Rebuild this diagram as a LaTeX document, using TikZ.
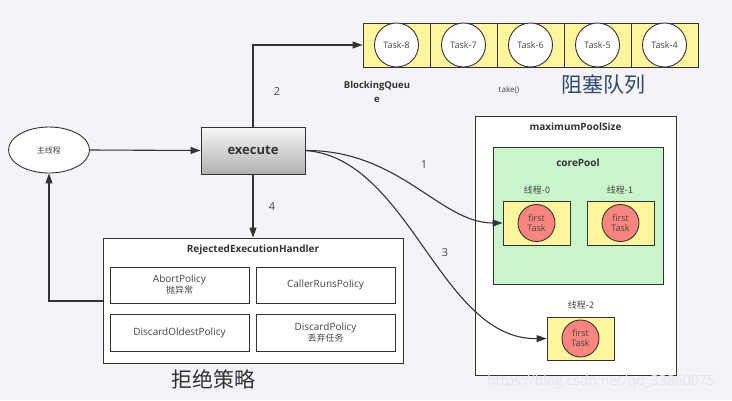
\documentclass[tikz,border=0pt]{standalone}
\usepackage{fontspec}
\setmainfont{Open Sans}
\newfontfamily\cjk{Noto Sans CJK SC}
\usepackage{tikz}
\usetikzlibrary{arrows.meta,shapes.geometric}
\definecolor{bgpage}{HTML}{F4F3F7}
\definecolor{qyellow}{HTML}{FFF59D}
\definecolor{tred}{HTML}{F8867E}
\definecolor{cgreen}{HTML}{C8F5CA}
\definecolor{edge}{HTML}{333333}
\definecolor{txt}{HTML}{444444}
\definecolor{bluetxt}{HTML}{2E4A6E}
\tikzset{
  cell/.style    = {rectangle, draw=edge, line width=0.9pt, fill=qyellow,
                    minimum width=67pt, minimum height=44pt, inner sep=0pt},
  taskc/.style   = {circle, draw=edge, line width=0.9pt, fill=white,
                    minimum size=44pt, inner sep=0pt, font=\fontsize{9}{10}\selectfont, text=txt},
  firstc/.style  = {circle, draw=edge, line width=0.9pt, fill=tred, align=center,
                    minimum size=37pt, inner sep=0pt, font=\fontsize{9}{10}\selectfont, text=txt},
  thbox/.style   = {rectangle, draw=edge, line width=0.9pt, fill=qyellow,
                    minimum width=67pt, minimum height=44pt},
  policy/.style  = {rectangle, draw=edge, line width=0.9pt, fill=white, align=center,
                    minimum width=139pt, minimum height=36pt, inner sep=1pt,
                    font=\fontsize{10}{11}\selectfont, text=txt},
  bigbox/.style  = {rectangle, draw=edge, line width=0.9pt, fill=white},
  ttl/.style     = {font=\bfseries\fontsize{10}{12}\selectfont, text=edge},
  num/.style     = {font=\fontsize{11}{12}\selectfont, text=txt},
  cnlab/.style   = {font=\cjk\fontsize{9}{10}\selectfont, text=txt},
  arr/.style     = {-{Triangle[length=10pt,width=7pt]}, line width=1.1pt, edge},
}
\begin{document}
\begin{tikzpicture}[x=1pt,y=-1pt]
  \useasboundingbox (0,0) rectangle (732,400);
  \fill[bgpage] (0,0) rectangle (732,400);

  \foreach \t [count=\i from 0] in {8,7,6,5,4} {
    \node[cell] (q\t) at (396.5+67*\i,45) {};
    \node[taskc] (task\t) at (q\t) {Task-\t};
  }
  \node[font=\bfseries\fontsize{9.5}{14}\selectfont, text=edge, align=center] (bqlab) at (377,92) {BlockingQueu\\e};
  \node[font=\fontsize{8}{9}\selectfont, text=txt] (take) at (509,90) {take()};
  \node[font=\cjk\fontsize{21}{22}\selectfont, text=bluetxt] (zusai) at (603,84) {阻塞队列};

  \node[ellipse, draw=edge, line width=0.9pt, fill=white, minimum width=81pt, minimum height=46pt,
        font=\cjk\fontsize{8}{9}\selectfont, text=txt] (main) at (49,150) {主线程};
  \node[rectangle, draw=edge, line width=0.9pt, top color=gray!6, bottom color=gray!62,
        minimum width=104pt, minimum height=47pt, font=\bfseries\fontsize{13}{14}\selectfont,
        text=edge] (exec) at (253,150.5) {execute};

  \node[bigbox, minimum width=300pt, minimum height=125pt] (handler) at (253,300.5) {};
  \node[ttl] (htitle) at (253,250) {RejectedExecutionHandler};
  \node[policy] (abort) at (179.5,285) {AbortPolicy\\{\cjk\fontsize{9}{10}\selectfont 抛异常}};
  \node[policy] (caller) at (325.5,285) {CallerRunsPolicy};
  \node[policy, minimum height=37pt] (oldest) at (179.5,332.5) {DiscardOldestPolicy};
  \node[policy, minimum height=37pt] (discard) at (325.5,332.5) {DiscardPolicy\\{\cjk\fontsize{9}{10}\selectfont 丢弃任务}};
  \node[font=\cjk\fontsize{21}{22}\selectfont, text=edge] (jujue) at (213,379) {拒绝策略};

  \node[bigbox, minimum width=201pt, minimum height=259pt] (maxpool) at (575.5,245.5) {};
  \node[ttl] (maxlab) at (575.5,127) {maximumPoolSize};
  \node[rectangle, draw=edge, line width=0.9pt, fill=cgreen, minimum width=170pt,
        minimum height=137pt] (core) at (578,215.5) {};
  \node[ttl] (corelab) at (578,163) {corePool};
  \node[cnlab] (t0lab) at (537,190) {线程-0};
  \node[cnlab] (t1lab) at (620,190) {线程-1};
  \node[thbox] (t0) at (536.5,223) {};
  \node[firstc] (f0) at (t0) {first\\Task};
  \node[thbox] (t1) at (620.5,223) {};
  \node[firstc] (f1) at (t1) {first\\Task};
  \node[cnlab] (t2lab) at (581,305) {线程-2};
  \node[thbox, minimum height=43pt] (t2) at (580.5,338.5) {};
  \node[firstc] (f2) at (t2) {first\\Task};

  \node[font=\fontsize{14}{15}\selectfont, text=black!10] (mark) at (601,382) {https://blog.csdn.net/qq\_33860075};

  \node[num] (n1) at (424,165) {1};
  \node[num] (n2) at (277,92) {2};
  \node[num] (n3) at (445,253) {3};
  \node[num] (n4) at (272,207) {4};

  \draw[arr] (main.east) -- (exec.west);
  \coordinate (up) at (253,45);
  \draw[arr] (exec.north) -- (up) -- (q8.west);
  \draw[arr] (exec.south) -- (handler.north);
  \coordinate (back) at (49,301);
  \draw[arr] (handler.west |- back) -- (back) -- (main.south);
  \draw[arr] (exec.east) .. controls (400,150) and (440,223) .. (t0.west);
  \draw[arr] (exec.east) .. controls (410,158) and (440,340) .. (t2.west);
\end{tikzpicture}
\end{document}
